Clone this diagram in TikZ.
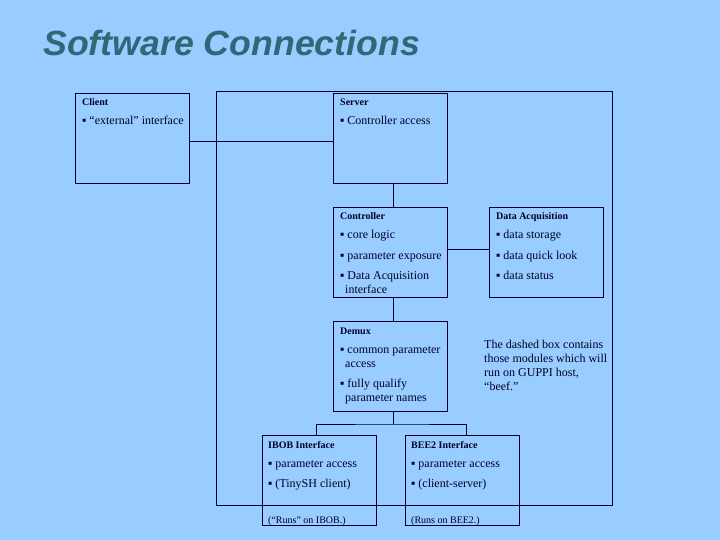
\documentclass[tikz,border=0pt]{standalone}
\usepackage{fontspec}
\setmainfont{Liberation Serif}
\newfontfamily\titlefont{Liberation Sans}
\definecolor{bg}{HTML}{99CCFF}
\definecolor{ttl}{HTML}{336677}
\definecolor{ink}{HTML}{00002A}
\newcommand\blt{\char"25AA\ }
\begin{document}
\begin{tikzpicture}[x=1pt,y=-1pt,
  box/.style={draw=ink, line width=1pt, minimum width=114pt, minimum height=90pt, anchor=north west, inner sep=0pt},
  hd/.style={anchor=base west, inner sep=0pt, font=\fontsize{10}{12}\selectfont\bfseries, text=ink},
  tx/.style={anchor=base west, inner sep=0pt, font=\fontsize{12}{14}\selectfont, text=ink},
  ft/.style={anchor=base west, inner sep=0pt, font=\fontsize{10}{12}\selectfont, text=ink},
  wire/.style={draw=ink, line width=1pt}]
\fill[bg] (0,0) rectangle (720,540);
\useasboundingbox (0,0) rectangle (720,540);

\node[anchor=base west, inner sep=0pt, text=ttl, font=\titlefont\fontsize{35}{40}\selectfont\bfseries\itshape] (title) at (43,56) {\scalebox{1.02}[1]{Software Connections}};

% outer (GUPPI host) box
\node[draw=ink, line width=1pt, minimum width=396pt, minimum height=414pt, anchor=north west, inner sep=0pt] (beef) at (216,91) {};

% boxes
\node[box] (client) at (75,93) {};
\node[box] (server) at (333,93) {};
\node[box] (ctrl) at (333,207) {};
\node[box] (daq) at (489,207) {};
\node[box] (demux) at (333,321) {};
\node[box] (ibob) at (262,435) {};
\node[box] (bee2) at (405,435) {};

% texts
\node[hd] (clienth) at ([shift={(7,13)}]client.north west) {Client};
\node[tx] (client1) at ([shift={(7,32)}]client.north west) {\blt “external” interface};

\node[hd] (serverh) at ([shift={(7,13)}]server.north west) {Server};
\node[tx] (server1) at ([shift={(7,32)}]server.north west) {\blt Controller access};

\node[hd] (ctrlh) at ([shift={(7,13)}]ctrl.north west) {Controller};
\node[tx] (ctrl1) at ([shift={(7,32)}]ctrl.north west) {\blt core logic};
\node[tx] (ctrl2) at ([shift={(7,52)}]ctrl.north west) {\blt parameter exposure};
\node[tx] (ctrl3) at ([shift={(7,72)}]ctrl.north west) {\blt Data Acquisition};
\node[tx] (ctrl3b) at ([shift={(12,86)}]ctrl.north west) {interface};

\node[hd] (daqh) at ([shift={(7,13)}]daq.north west) {Data Acquisition};
\node[tx] (daq1) at ([shift={(7,32)}]daq.north west) {\blt data storage};
\node[tx] (daq2) at ([shift={(7,52)}]daq.north west) {\blt data quick look};
\node[tx] (daq3) at ([shift={(7,72)}]daq.north west) {\blt data status};

\node[hd] (demuxh) at ([shift={(7,13)}]demux.north west) {Demux};
\node[tx] (demux1) at ([shift={(7,32)}]demux.north west) {\blt common parameter};
\node[tx] (demux1b) at ([shift={(12,46)}]demux.north west) {access};
\node[tx] (demux2) at ([shift={(7,66)}]demux.north west) {\blt fully qualify};
\node[tx] (demux2b) at ([shift={(12,80)}]demux.north west) {parameter names};

\node[hd] (ibobh) at ([shift={(6,13)}]ibob.north west) {IBOB Interface};
\node[tx] (ibob1) at ([shift={(6,32)}]ibob.north west) {\blt parameter access};
\node[tx] (ibob2) at ([shift={(6,52)}]ibob.north west) {\blt (TinySH client)};
\node[ft] (ibobf) at ([shift={(6,88)}]ibob.north west) {(“Runs” on IBOB.)};

\node[hd] (bee2h) at ([shift={(6,13)}]bee2.north west) {BEE2 Interface};
\node[tx] (bee21) at ([shift={(6,32)}]bee2.north west) {\blt parameter access};
\node[tx] (bee22) at ([shift={(6,52)}]bee2.north west) {\blt (client-server)};
\node[ft] (bee2f) at ([shift={(6,88)}]bee2.north west) {(Runs on BEE2.)};

\node[anchor=north west, inner sep=0pt, align=left, font=\fontsize{12}{14}\selectfont, text=ink] (note) at (484,340)
  {The dashed box contains\\those modules which will\\run on GUPPI host,\\“beef.”};

% connectors
\draw[wire] ([yshift=-3pt]client.east) -- ([yshift=-3pt]server.west);
\draw[wire] ([xshift=3pt]server.south) -- ([xshift=3pt]ctrl.north);
\draw[wire] ([yshift=3pt]ctrl.east) -- ([yshift=3pt]daq.west);
\draw[wire] ([xshift=3pt]ctrl.south) -- ([xshift=3pt]demux.north);
\coordinate (split) at ([xshift=3pt,yshift=-12pt]demux.south);
\draw[wire] ([xshift=3pt]demux.south) -- (split);
\draw[wire] ([xshift=-3pt]ibob.north) |- (split) -| ([xshift=4pt]bee2.north);
\end{tikzpicture}
\end{document}
